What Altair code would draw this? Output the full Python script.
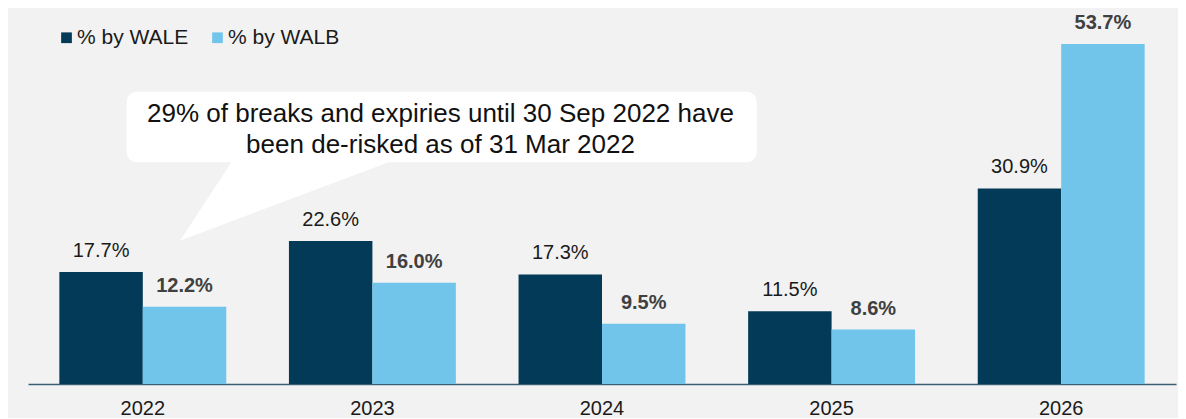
import altair as alt
import pandas as pd

years = ["2022", "2023", "2024", "2025", "2026"]
wale = [17.7, 22.6, 17.3, 11.5, 30.9]
walb = [12.2, 16.0, 9.5, 8.6, 53.7]
series = ["% by WALE", "% by WALB"]
callout_lines = [
    "29% of breaks and expiries until 30 Sep 2022 have",
    "been de-risked as of 31 Mar 2022",
]

rows = []
for yr, a, b in zip(years, wale, walb):
    rows.append({"year": yr, "series": series[0], "value": a, "label": f"{a:.1f}%"})
    rows.append({"year": yr, "series": series[1], "value": b, "label": f"{b:.1f}%"})
df = pd.DataFrame(rows)
one = pd.DataFrame({"k": [0]})

FONT = "Liberation Sans"
DARK = "#023a58"
LIGHT = "#72c5ea"

x = alt.X(
    "year:N",
    sort=years,
    title=None,
    scale=alt.Scale(paddingInner=0.273, paddingOuter=0.1365),
    axis=alt.Axis(
        labelAngle=0,
        labelFontSize=20,
        labelFont=FONT,
        labelColor="#1a1a1a",
        ticks=False,
        labelPadding=14,
        domainColor="#3a6075",
        domainWidth=1.5,
        grid=False,
    ),
)
y = alt.Y("value:Q", scale=alt.Scale(domain=[0, 59.4], nice=False), axis=None)
xo = alt.XOffset("series:N", sort=series)

base = alt.Chart(df)

bars = base.mark_bar().encode(
    x=x,
    y=y,
    xOffset=xo,
    color=alt.Color(
        "series:N",
        sort=series,
        scale=alt.Scale(domain=series, range=[DARK, LIGHT]),
        legend=alt.Legend(
            orient="none",
            legendX=28,
            legendY=19,
            direction="horizontal",
            title=None,
            symbolType="square",
            symbolSize=115,
            symbolStrokeWidth=0,
            labelFontSize=21,
            labelFont=FONT,
            labelColor="#1a1a1a",
            columnPadding=18,
            labelOffset=0,
        ),
    ),
)

lab_wale = base.transform_filter(alt.datum.series == series[0]).mark_text(
    font=FONT, fontSize=20, color="#1a1a1a", baseline="middle", dy=-21
).encode(x=x, y=y, xOffset=xo, text="label:N")

lab_walb = base.transform_filter(alt.datum.series == series[1]).mark_text(
    font=FONT, fontSize=20, fontWeight="bold", color="#404040", baseline="middle", dy=-21
).encode(x=x, y=y, xOffset=xo, text="label:N")

pointer = alt.Chart(one).mark_point(
    shape="M0,0L51.7,-79L210,-79Z", size=4, filled=True, color="white", opacity=1, strokeWidth=0
).encode(x=alt.value(152), y=alt.value(232.7))

box = alt.Chart(one).mark_rect(color="white", cornerRadius=10).encode(
    x=alt.value(98.7), x2=alt.value(728.7), y=alt.value(83.7), y2=alt.value(154.3)
)

callout = alt.Chart(one).mark_text(
    text=callout_lines, font=FONT, fontSize=26, color="#111111", align="center",
    baseline="middle", lineHeight=31
).encode(x=alt.value(412.5), y=alt.value(105.5))

chart = alt.layer(bars, lab_wale, lab_walb, pointer, box, callout).properties(
    width=1148,
    height=376,
    padding={"left": 20, "top": 0, "right": 2, "bottom": 0},
    background="#f2f2f2",
).configure_view(stroke=None)

chart.save("out.html", embed_options={"renderer": "svg", "actions": False})
